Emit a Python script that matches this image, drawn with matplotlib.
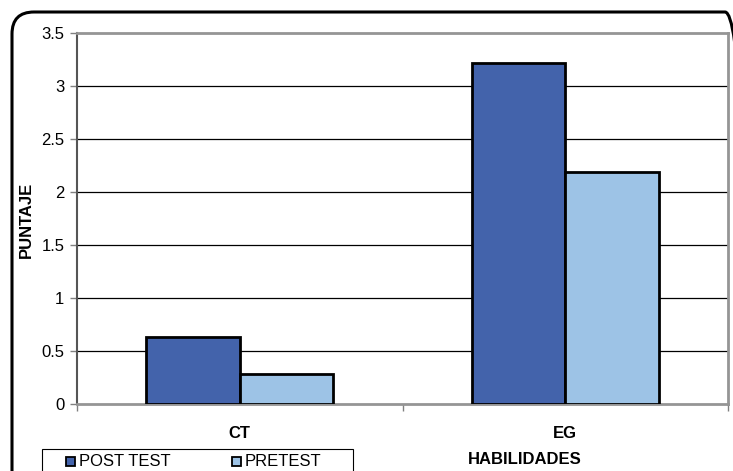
import matplotlib
matplotlib.use('Agg')
import matplotlib.pyplot as plt
import matplotlib.patches as mpatches
from matplotlib.transforms import IdentityTransform
import numpy as np

# data
categories = ['CT', 'EG']
post_test = [0.63, 3.22]
pretest = [0.28, 2.19]
series_names = ['POST TEST', 'PRETEST']
col_post = '#4363ab'
col_pre = '#9dc3e6'

W, H = 733, 471
FS = 12
plt.rcParams['font.family'] = ['Liberation Sans', 'DejaVu Sans']
fig = plt.figure(figsize=(W / 100, H / 100), dpi=100)
px = IdentityTransform()

# rounded chart border (pixels, y from bottom)
border = mpatches.FancyBboxPatch((12, -40), 735, 499,
                                 boxstyle='round,pad=0,rounding_size=22',
                                 transform=px, facecolor='none',
                                 edgecolor='black', lw=2.2)
fig.patches.append(border)

ax = fig.add_axes([77 / W, (H - 404) / H, 651 / W, 371 / H])
x = np.arange(len(categories))
bw = 0.287
ax.bar(x - bw / 2, post_test, bw, color=col_post, edgecolor='black', lw=2, zorder=3)
ax.bar(x + bw / 2, pretest, bw, color=col_pre, edgecolor='black', lw=2, zorder=3)

ax.set_xlim(-0.5, 1.5)
ax.set_ylim(0, 3.5)
ax.set_yticks(np.arange(0, 3.51, 0.5))
ax.set_yticklabels(['0', '0.5', '1', '1.5', '2', '2.5', '3', '3.5'], fontsize=FS)
for v in np.arange(0.5, 3.4, 0.5):
    ax.axhline(v, color='black', lw=0.9, zorder=1)

ax.set_xticks([-0.5, 0.5, 1.5])
ax.set_xticklabels([])
ax.tick_params(axis='x', length=5, color='#808080', width=1)
ax.tick_params(axis='y', length=5, color='#808080', width=1, pad=4)

for s in ['top', 'right', 'bottom']:
    ax.spines[s].set_color('#959595')
    ax.spines[s].set_linewidth(2)
ax.spines['left'].set_color('#555555')
ax.spines['left'].set_linewidth(1.5)

# category labels
for i, c in enumerate(categories):
    xd = ax.transData.transform((x[i], 0))[0]
    fig.text(xd / W, 1 - 434 / H, c, ha='center', va='center',
             fontsize=FS, fontweight='bold')

fig.text(26 / W, 1 - 220 / H, 'PUNTAJE', rotation=90, ha='center', va='center',
         fontsize=FS, fontweight='bold')
fig.text(525 / W, 1 - 459 / H, 'HABILIDADES', ha='center', va='center',
         fontsize=FS, fontweight='bold')

# legend drawn by hand, cut off by the bottom edge like the original
frame = mpatches.Rectangle((42, -10), 311, H - 449 + 10, transform=px,
                           facecolor='white', edgecolor='black', lw=0.8)
fig.patches.append(frame)
for name, col, x0 in zip(series_names, [col_post, col_pre], [66, 232]):
    sq = mpatches.Rectangle((x0, H - 466), 9, 9, transform=px,
                            facecolor=col, edgecolor='black', lw=1.3)
    fig.patches.append(sq)
    fig.text((x0 + 13) / W, 1 - 461.5 / H, name, ha='left', va='center',
             fontsize=FS)

fig.savefig('out.png', dpi=100)
